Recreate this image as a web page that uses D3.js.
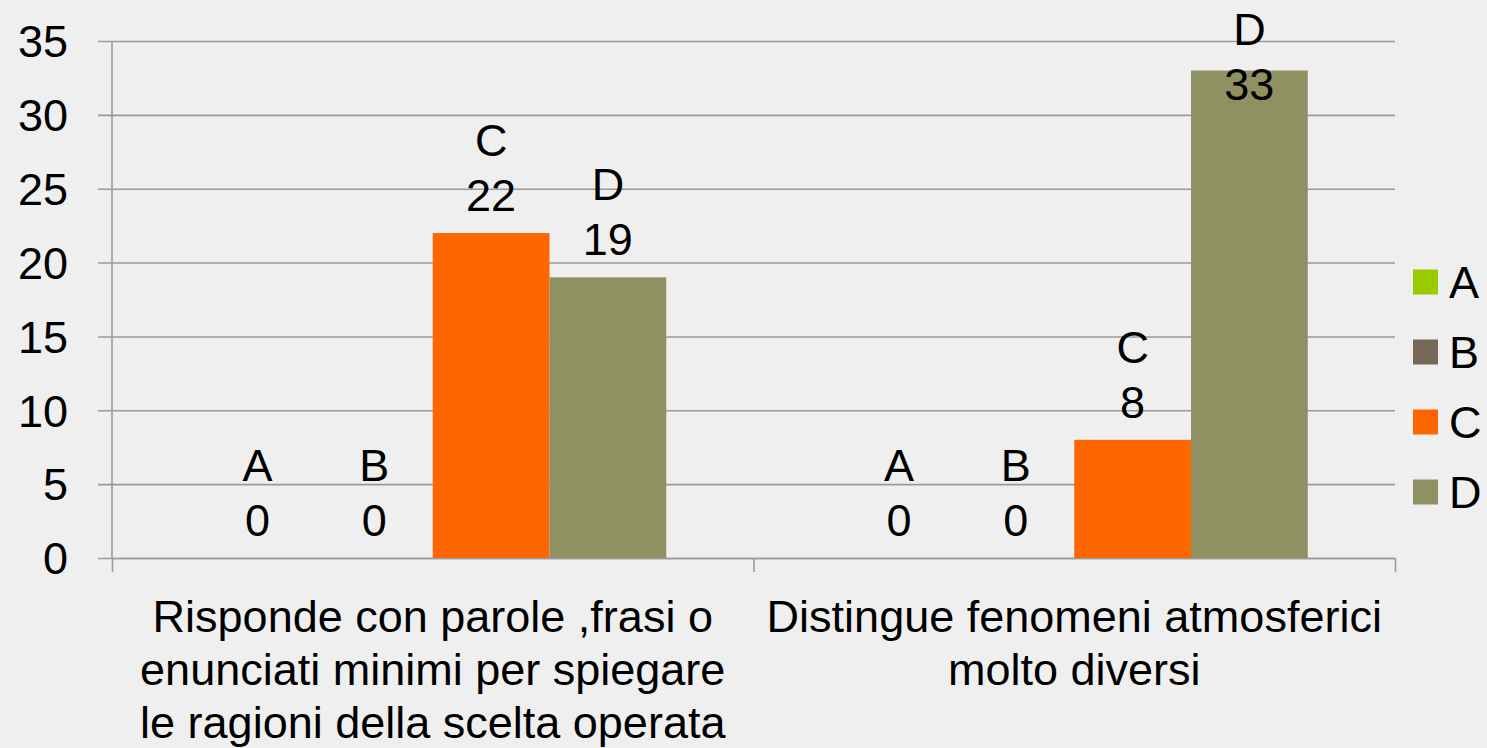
<!DOCTYPE html>
<html>
<head>
<meta charset="utf-8">
<script src="https://cdn.jsdelivr.net/npm/d3@7"></script>
<style>
  html, body { margin: 0; padding: 0; background: #efefef; }
  svg { display: block; }
  text { font-family: "Liberation Sans", Arial, sans-serif; fill: #000; }
</style>
</head>
<body>
<svg id="chart" width="1487" height="748"></svg>
<script>
// ---- data ----
const categories = [
  ["Risponde con parole ,frasi o", "enunciati minimi per spiegare", "le ragioni della scelta operata"],
  ["Distingue fenomeni atmosferici", "molto diversi"]
];
const categoryKeys = ["cat1", "cat2"];
const seriesNames = ["A", "B", "C", "D"];
const valuesA = [0, 0];
const valuesB = [0, 0];
const valuesC = [22, 8];
const valuesD = [19, 33];
const seriesColors = ["#99cc00", "#756956", "#ff6600", "#8f9163"];
const yTicks = [0, 5, 10, 15, 20, 25, 30, 35];

const seriesValues = [valuesA, valuesB, valuesC, valuesD];

// ---- layout ----
const svg = d3.select("#chart");
const fs = 45;
const plotLeft = 112, plotRight = 1395, plotTop = 41, plotBottom = 558;
const gridColor = "#9a9a9a";

const x0 = d3.scaleBand().domain(categoryKeys).range([plotLeft, plotRight])
  .paddingInner(0.272).paddingOuter(0.136);
const x1 = d3.scaleBand().domain(seriesNames).range([0, x0.bandwidth()]);
const y = d3.scaleLinear().domain([0, 35]).range([plotBottom, plotTop]);
const color = d3.scaleOrdinal().domain(seriesNames).range(seriesColors);

// gridlines + y axis
const yAxis = d3.axisLeft(y).tickValues(yTicks).tickSize(-(plotRight - plotLeft)).tickSizeOuter(0).tickPadding(44);
const gy = svg.append("g").attr("transform", `translate(${plotLeft},0)`).call(yAxis);
gy.select(".domain").remove();
gy.selectAll(".tick line").attr("x1", -14).attr("stroke", gridColor).attr("stroke-width", 1.6);
gy.selectAll(".tick text").attr("font-size", fs).attr("font-family", "Liberation Sans, Arial, sans-serif")
  .attr("fill", "#000").attr("dy", "0.35em");

// y axis line
svg.append("line").attr("x1", plotLeft).attr("x2", plotLeft).attr("y1", y(35)).attr("y2", y(0))
  .attr("stroke", gridColor).attr("stroke-width", 1.6);

// x axis
const xScaleLin = d3.scaleLinear().domain([0, categoryKeys.length]).range([plotLeft, plotRight]);
const xAxis = d3.axisBottom(xScaleLin).tickValues(d3.range(categoryKeys.length + 1)).tickSize(14).tickSizeOuter(0).tickFormat("");
const gx = svg.append("g").attr("transform", `translate(0,${plotBottom})`).call(xAxis);
gx.select(".domain").attr("stroke", gridColor).attr("stroke-width", 1.6);
gx.selectAll(".tick line").attr("stroke", gridColor).attr("stroke-width", 1.6);

// bars
const rows = [];
categoryKeys.forEach((c, ci) => {
  seriesNames.forEach((s, si) => {
    rows.push({ cat: c, ci, series: s, value: seriesValues[si][ci] });
  });
});

svg.append("g").selectAll("rect").data(rows.filter(d => d.value > 0)).join("rect")
  .attr("x", d => x0(d.cat) + x1(d.series))
  .attr("y", d => y(d.value))
  .attr("width", x1.bandwidth())
  .attr("height", d => y(0) - y(d.value))
  .attr("fill", d => color(d.series));

// data labels
const lab = svg.append("g");
rows.forEach(d => {
  const cx = x0(d.cat) + x1(d.series) + x1.bandwidth() / 2;
  let vb = y(d.value) - 22;
  let nb = vb - 55;
  if (nb < 45) { nb = 45; vb = 100; }
  lab.append("text").attr("x", cx).attr("y", nb).attr("text-anchor", "middle")
    .attr("font-size", fs).text(d.series);
  lab.append("text").attr("x", cx).attr("y", vb).attr("text-anchor", "middle")
    .attr("font-size", fs).text(d.value);
});

// category labels
categoryKeys.forEach((c, ci) => {
  const cx = x0(c) + x0.bandwidth() / 2;
  const t = svg.append("text").attr("text-anchor", "middle").attr("font-size", fs);
  categories[ci].forEach((line, li) => {
    t.append("tspan").attr("x", cx).attr("y", 632 + li * 53).text(line);
  });
});

// legend
const legend = svg.append("g");
seriesNames.forEach((s, i) => {
  const cy = 282 + i * 70;
  legend.append("rect").attr("x", 1413).attr("y", cy - 12.5).attr("width", 25).attr("height", 25)
    .attr("fill", color(s));
  legend.append("text").attr("x", 1449).attr("y", cy + 16).attr("font-size", fs).text(s);
});
</script>
</body>
</html>
